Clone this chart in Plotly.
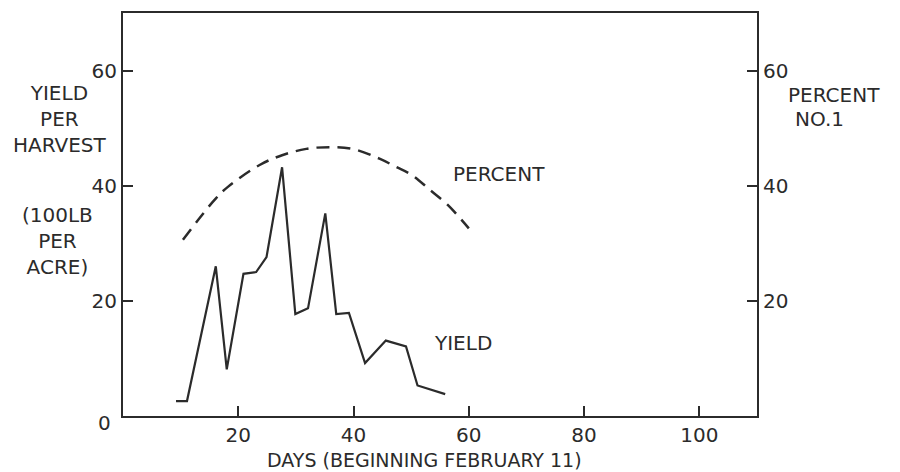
import plotly.graph_objects as go

# Yield per harvest (100 lb per acre)
yield_days = [9.2, 11.1, 16.1, 18.0, 20.9, 23.1, 24.9, 27.6, 29.9, 32.1, 35.1, 37.0, 39.2, 42.0, 45.6, 49.1, 51.1, 55.9]
yield_vals = [2.6, 2.6, 26.0, 8.1, 24.7, 25.0, 27.6, 43.2, 17.7, 18.7, 35.2, 17.7, 17.9, 9.2, 13.1, 12.1, 5.3, 3.8]

# Percent No. 1
pct_days = [10.4, 13.3, 16.2, 18.2, 23.7, 27.6, 31.8, 35.8, 39.8, 44.5, 47.3, 50.2, 53.1, 56.3, 60.0]
pct_vals = [30.6, 34.4, 37.9, 39.8, 43.6, 45.3, 46.4, 46.7, 46.4, 44.7, 43.3, 41.8, 39.4, 36.7, 32.6]

x_ticks = [20, 40, 60, 80, 100]
y_ticks = [20, 40, 60]

INK = "#2b2b2b"
FONT = "DejaVu Sans"
FS = 20

fig = go.Figure()
fig.add_trace(go.Scatter(x=yield_days, y=yield_vals, mode="lines",
                         line=dict(color=INK, width=2.2), showlegend=False))
fig.add_trace(go.Scatter(x=pct_days, y=pct_vals, mode="lines", yaxis="y2",
                         line=dict(color=INK, width=2.5, dash="13px,8px", shape="spline"),
                         showlegend=False))

fig.update_layout(
    width=900, height=472,
    margin=dict(l=123, r=143, t=11, b=56),
    paper_bgcolor="white", plot_bgcolor="white",
    font=dict(family=FONT, size=FS, color=INK),
    xaxis=dict(range=[0, 110], tickvals=x_ticks, ticks="inside", ticklen=10,
               tickwidth=2, tickcolor=INK, showline=True, linecolor=INK,
               linewidth=2, mirror=True, showgrid=False, zeroline=False,
               tickfont=dict(family=FONT, size=FS, color=INK)),
    yaxis=dict(range=[0, 70], tickvals=y_ticks, ticks="inside", ticklen=10,
               tickwidth=2, tickcolor=INK, showline=True, linecolor=INK,
               linewidth=2, mirror=True, showgrid=False, zeroline=False,
               tickfont=dict(family=FONT, size=FS, color=INK)),
    yaxis2=dict(range=[0, 70], tickvals=y_ticks, ticks="inside", ticklen=10,
                tickwidth=2, tickcolor=INK, overlaying="y", side="right",
                showline=False, showgrid=False, zeroline=False,
                ticklabelstandoff=5,
                tickfont=dict(family=FONT, size=FS, color=INK)),
)

def ann(text, x, y, xref="paper", yref="paper", size=FS, align="center"):
    fig.add_annotation(text=text, x=x, y=y, xref=xref, yref=yref,
                       xanchor="center", yanchor="middle", showarrow=False,
                       align=align, font=dict(family=FONT, size=size, color=INK))

ann("YIELD<br>PER<br>HARVEST", -0.10, 0.736)
ann("(100LB<br>PER<br>ACRE)", -0.103, 0.434)
ann("PERCENT", 1.1215, 0.7975)
ann("NO.1", 1.099, 0.736)
ann("DAYS (BEGINNING FEBRUARY 11)", 0.476, -0.108, size=19)
ann("0", -0.0284, -0.017)
ann("PERCENT", 65.2, 42.1, xref="x", yref="y")
ann("YIELD", 59.0, 12.6, xref="x", yref="y")

fig.write_html("out.html", config={"displayModeBar": False},
               post_script="document.body.style.margin='0';")
